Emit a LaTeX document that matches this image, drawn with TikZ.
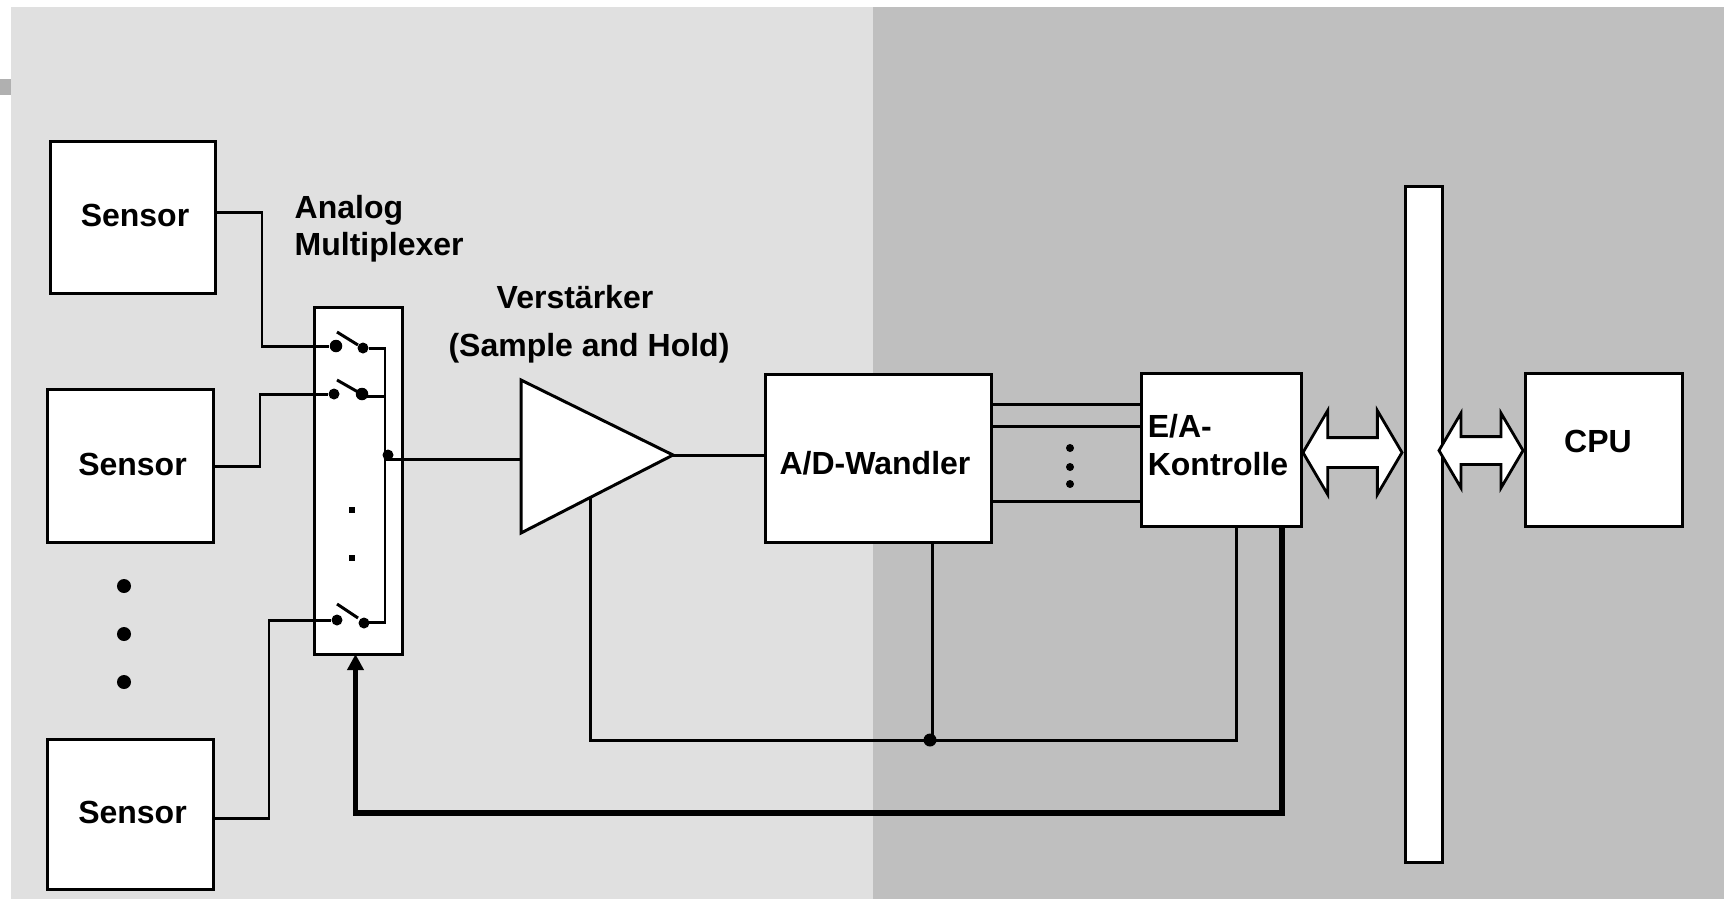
\documentclass[tikz,border=0pt]{standalone}
\usepackage{fontspec}
\setmainfont{Liberation Sans}
\usetikzlibrary{shapes.arrows, arrows.meta}

\definecolor{lightbg}{HTML}{E0E0E0}
\definecolor{darkbg}{HTML}{BFBFBF}
\definecolor{tabgray}{HTML}{B0B0B0}

\tikzset{
  wire/.style={line width=0.85pt},
  busline/.style={line width=1.45pt},
  box/.style={draw, fill=white, line width=0.85pt, inner sep=0, outer sep=0, align=left,
    font=\fontsize{9.1pt}{10.8pt}\selectfont\bfseries},
  title/.style={inner sep=0, align=left, anchor=base west,
    font=\fontsize{9.1pt}{10.25pt}\selectfont\bfseries},
  dot/.style={circle, fill=black, inner sep=0, minimum size=0.11cm},
  bigarrow/.style={double arrow, draw, fill=white, line width=0.8pt, inner xsep=0, outer sep=0, miter limit=10}
}

\begin{document}
\begin{tikzpicture}[x=0.01cm, y=-0.01cm]
\useasboundingbox (0, 0) rectangle (1724, 899);

% Draw background.
\fill[lightbg] (11, 7) rectangle (873, 899);
\fill[darkbg] (873, 7) rectangle (1724, 899);
\fill[tabgray] (0, 79) rectangle (11, 95);

% Draw sensors.
\node[box, minimum width=1.64cm, minimum height=1.51cm, text depth=0.04cm] (sensorA) at (133, 217.5) {\hspace{0.04cm}Sensor};
\node[box, minimum width=1.66cm, minimum height=1.52cm, text depth=0.04cm] (sensorB) at (130.5, 466) {\hspace{0.04cm}Sensor};
\node[box, minimum width=1.66cm, minimum height=1.49cm, text depth=0.04cm] (sensorC) at (130.5, 814.5) {\hspace{0.04cm}Sensor};
\node[dot, minimum size=0.14cm] (gapA) at (124, 586) {};
\node[dot, minimum size=0.14cm] (gapB) at (124, 634) {};
\node[dot, minimum size=0.14cm] (gapC) at (124, 682) {};

% Draw multiplexer.
\node[box, minimum width=0.87cm, minimum height=3.46cm] (mux) at (358.5, 481) {};
\node[title] (muxText) at (294, 255) {Analog\\Multiplexer};
\node[dot, minimum size=0.125cm] (swAin) at (336, 346) {};
\node[dot] (swAout) at (363, 348) {};
\node[dot] (swBin) at (334, 394) {};
\node[dot, minimum size=0.125cm] (swBout) at (362, 394) {};
\node[dot] (swCin) at (337, 620) {};
\node[dot] (swCout) at (364, 623) {};
\draw[wire] (337, 332) -- (358, 345);
\draw[wire] (337, 380) -- (358, 392);
\draw[wire] (337, 604) -- (358, 618);
\fill (348.5, 507) rectangle (354.5, 513);
\fill (348.5, 555) rectangle (354.5, 561);
\coordinate (muxTop) at (385, 348);
\coordinate (muxBot) at (385, 622);
\node[dot] (muxOut) at (388, 455) {};
\draw[wire] (swAout) -- (muxTop) -- (muxBot) -- (swCout |- muxBot);
\draw[wire] (swBout |- 0, 396) -- (385, 396);

% Draw sensor lines.
\coordinate (cornerA) at (262, 212);
\coordinate (cornerB) at (260, 466);
\coordinate (cornerC) at (269, 818);
\draw[wire] (sensorA.east |- cornerA) -- (cornerA) |- (swAin);
\draw[wire] (sensorB.east |- cornerB) -- (cornerB) |- (swBin);
\draw[wire] (sensorC.east |- cornerC) -- (cornerC) |- (swCin);

% Draw amplifier.
\coordinate (ampTop) at (521, 380);
\coordinate (ampBot) at (521, 533);
\coordinate (ampOut) at (673, 455);
\coordinate (ampIn) at (521, 459);
\coordinate (ampCtl) at (590, 498);
\draw[fill=white, line width=0.85pt] (ampTop) -- (ampOut) -- (ampBot) -- cycle;
\draw[wire] (385, 459) -- (ampIn);
\node[inner sep=0, anchor=base, font=\fontsize{9.1pt}{10.8pt}\selectfont\bfseries] (ampTextA) at (575, 308) {Verstärker};
\node[inner sep=0, anchor=base, font=\fontsize{9.1pt}{10.8pt}\selectfont\bfseries] (ampTextB) at (589, 356) {(Sample and Hold)};

% Draw converter and controller.
\node[box, minimum width=2.26cm, minimum height=1.67cm, text height=0.32cm] (adc) at (878.5, 458.5) {A/D-Wandler\hspace{0.07cm}};
\node[box, minimum width=1.60cm, minimum height=1.52cm, text depth=0.11cm] (eak) at (1221.5, 450) {E/A-\\Kontrolle\rule{0.07cm}{0pt}};
\draw[wire] (ampOut) -- (adc.west |- ampOut);
\draw[wire] (adc.east |- 0, 404) -- (eak.west |- 0, 404);
\draw[wire] (adc.east |- 0, 426) -- (eak.west |- 0, 426);
\draw[wire] (adc.east |- 0, 501) -- (eak.west |- 0, 501);
\node[dot, minimum size=0.08cm] (linkA) at (1070, 448) {};
\node[dot, minimum size=0.08cm] (linkB) at (1070, 467) {};
\node[dot, minimum size=0.08cm] (linkC) at (1070, 484) {};

% Draw control lines.
\node[dot, minimum size=0.13cm] (ctlDot) at (930, 740) {};
\coordinate (ctlLeft) at (590, 740);
\coordinate (ctlRight) at (1236, 740);
\draw[wire] (ampCtl) -- (ctlLeft) -- (ctlRight) -- (eak.south -| ctlRight);
\draw[wire] (adc.south -| 932, 0) -- (932, 740);
\coordinate (backRight) at (1282, 813);
\coordinate (backLeft) at (355.5, 813);
\draw[busline, -{Triangle[width=0.16cm, length=0.16cm]}, line join=miter] (eak.south -| backRight) -- (backRight) -- (backLeft) -- (mux.south -| backLeft);

% Draw bus and CPU.
\node[box, minimum width=0.37cm, minimum height=6.75cm] (bus) at (1423.5, 524.5) {};
\node[box, minimum width=1.56cm, minimum height=1.52cm, text depth=0.17cm] (cpu) at (1604, 450) {CPU\hspace{0.12cm}};
\node[bigarrow, minimum height=0.99cm, minimum width=0.81cm, inner ysep=0.135cm, double arrow head extend=0.27cm, double arrow tip angle=119] (eakArrow) at (1352.5, 452.5) {};
\node[bigarrow, minimum height=0.84cm, minimum width=0.72cm, inner ysep=0.125cm, double arrow head extend=0.235cm, double arrow tip angle=119] (cpuArrow) at (1481, 450.5) {};

\end{tikzpicture}
\end{document}
